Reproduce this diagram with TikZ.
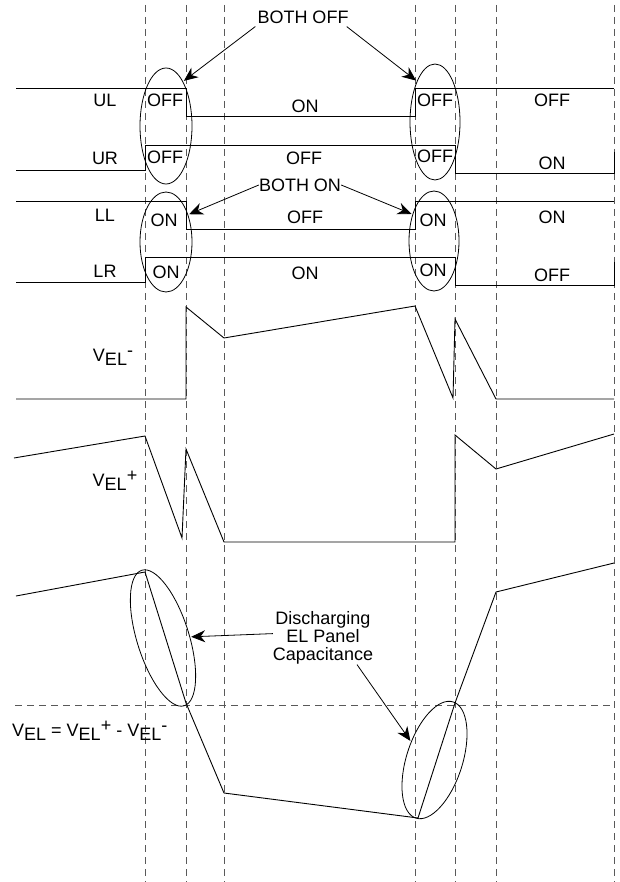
\documentclass[tikz,border=0pt]{standalone}
\usepackage{fontspec}
\setmainfont{Liberation Sans}
\usetikzlibrary{arrows.meta,positioning,shapes.geometric}
\tikzset{
  >={Stealth[length=14pt,width=12pt,inset=4.5pt]},
  grid/.style={black!65,dash pattern=on 7pt off 5pt,line width=0.7pt},
  wave/.style={black,line width=0.9pt,line join=miter},
  lbl/.style={font=\fontsize{18}{18}\selectfont,inner sep=0pt},
  ring/.style={ellipse,draw,line width=0.8pt,inner sep=0pt},
  pointer/.style={->,line width=0.8pt,shorten >=1pt},
}
\newcommand{\vel}[1]{V\raisebox{-4pt}{EL}\raisebox{5pt}{#1}}

\begin{document}
\begin{tikzpicture}[x=1pt,y=-1pt]
  \useasboundingbox (0,0) rectangle (619,882);
  % timing grid
  \foreach \x in {145,186,224,415,455,496,614}
    \draw[grid] (\x,5) -- (\x,882);
  \draw[grid] (15,705) -- (614,705);

  % switch states
  \draw[wave] (16,88) -- (186,88) -- (186,116) -- (415,116) -- (415,88) -- (614,88);
  \draw[wave] (16,170) -- (145,170) -- (145,145) -- (455,145) -- (455,173) -- (614,173) -- (614,152);
  \draw[wave] (16,201) -- (186,201) -- (186,229) -- (415,229) -- (415,201) -- (614,201);
  \draw[wave] (16,282) -- (145,282) -- (145,257) -- (455,257) -- (455,285) -- (614,285) -- (614,262);
  \foreach \n/\t/\y in {ul/UL/100, ur/UR/158, ll/LL/215, lr/LR/271}
    \node[lbl] (\n) at (105,\y) {\t};
  \foreach \t/\x/\y [count=\i] in {OFF/165/100, OFF/165/157, ON/164/220, ON/166/272,
      ON/305/106, OFF/304/158, OFF/305/217, ON/305/273,
      OFF/435/100, OFF/435/156, ON/433/220, ON/433/270,
      OFF/552/100, ON/552/163, ON/552/217, OFF/552/275}
    \node[lbl] (s\i) at (\x,\y) {\t};

  % overlap rings
  \node[ring,minimum width=52pt,minimum height=116pt] (offl) at (166,126) {};
  \node[ring,minimum width=52pt,minimum height=100pt] (onl) at (166,242) {};
  \node[ring,minimum width=50pt,minimum height=116pt] (offr) at (435,122) {};
  \node[ring,minimum width=50pt,minimum height=100pt] (onr) at (434,241) {};
  \node[lbl] (bothoff) at (303,17) {BOTH OFF};
  \node[lbl] (bothon) at (300,185) {BOTH ON};
  \draw[pointer] (bothoff.south west) ++(-2pt,-3pt) coordinate (bo1) (bo1) -- (offl.69);
  \draw[pointer] (bothoff.south east) ++(-2pt,-3pt) coordinate (bo2) (bo2) -- (offr.114);
  \draw[pointer] (bothon.west) -- (onl.51);
  \draw[pointer] (bothon.east) -- (onr.129);

  % output voltages
  \draw[wave] (16,399) -- (186,399) -- (186,307) -- (224,338) -- (415,306) -- (453,398)
    -- (455,319) -- (496,399) -- (614,399);
  \node[lbl] (velm) at (113,357) {\vel{-}};
  \draw[wave] (14,458) -- (145,436) -- (182,538) -- (186,449) -- (224,542) -- (455,542)
    -- (455,435) -- (496,469) -- (614,434);
  \node[lbl] (velp) at (115,481) {\vel{+}};
  \draw[wave] (16,596) -- (145,572) -- (186,703) -- (224,793) -- (418,818) -- (455,703)
    -- (496,592) -- (614,563);
  \node[lbl,anchor=west] (vel) at (12,731) {\vel{} = \vel{+} - \vel{-}};

  % discharge
  \node[ring,rotate=-72.6,minimum width=142pt,minimum height=52pt] (dischl) at (163,638) {};
  \node[ring,rotate=72.2,minimum width=122pt,minimum height=56pt] (dischr) at (434.5,760) {};
  \node[lbl,align=center] (disch) at (323,638) {Discharging\\EL Panel\\Capacitance};
  \draw[pointer] (disch.175) -- (dischl.75);
  \draw[pointer] (disch.south) ++(34pt,0) coordinate (dc) (dc) -- (dischr.70);
\end{tikzpicture}
\end{document}
